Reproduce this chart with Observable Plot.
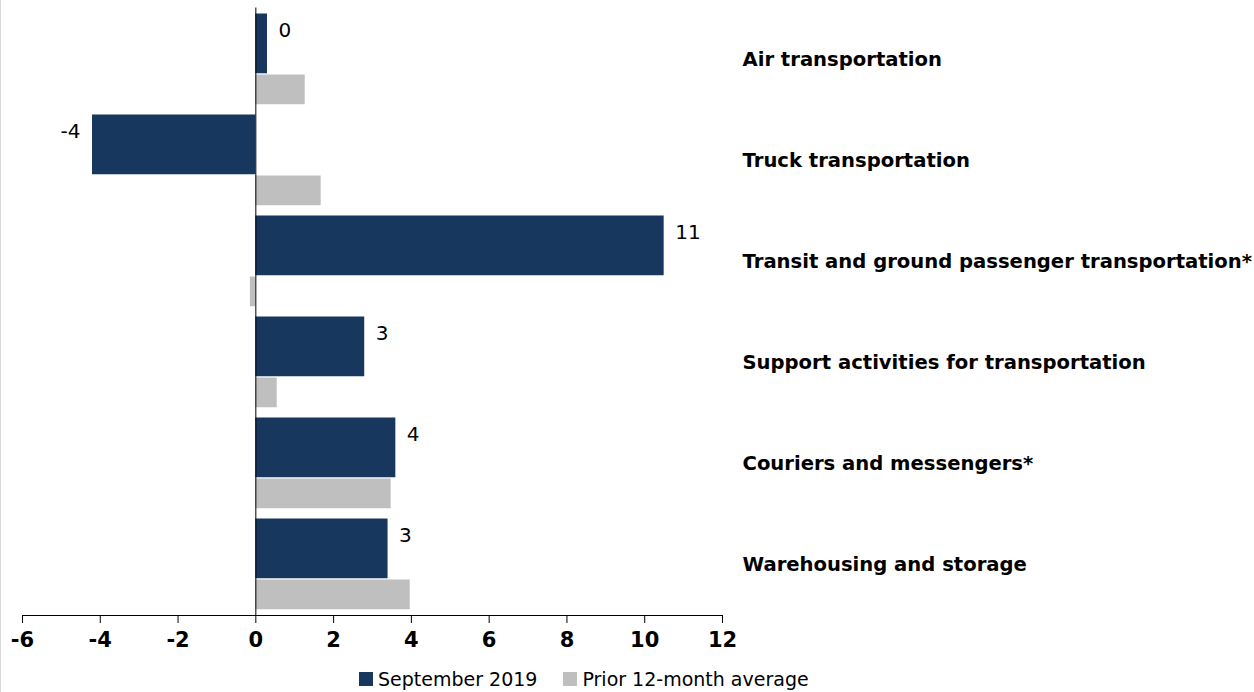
<!DOCTYPE html>
<html>
<head>
<meta charset="utf-8">
<script src="https://cdn.jsdelivr.net/npm/d3@7"></script>
<script src="https://cdn.jsdelivr.net/npm/@observablehq/plot@0.6"></script>
<style>
  html, body { margin: 0; padding: 0; background: #fff; }
  body { width: 1254px; height: 692px; position: relative; overflow: hidden; font-family: "DejaVu Sans", sans-serif; }
  #chart { position: absolute; left: 0; top: 0; }
  #frame { position: absolute; left: 0; top: 0; width: 1px; height: 692px; background: #d9d9d9; z-index: 2; }
  #legend { position: absolute; left: 359px; top: 668px; display: flex; align-items: center; font-size: 19px; color: #000; white-space: nowrap; }
  .item { display: flex; align-items: center; margin-right: 26px; }
  .sw { width: 14px; height: 14px; margin-right: 5px; }
</style>
</head>
<body>
<div id="chart"></div>
<div id="frame"></div>
<div id="legend"></div>
<script>
const categories = [
  "Air transportation",
  "Truck transportation",
  "Transit and ground passenger transportation*",
  "Support activities for transportation",
  "Couriers and messengers*",
  "Warehousing and storage"
];
const september2019 = [0.3, -4.2, 10.5, 2.8, 3.6, 3.4];
const prior12MonthAverage = [1.27, 1.68, -0.14, 0.55, 3.48, 3.97];
const dataLabels = ["0", "-4", "11", "3", "4", "3"];
const xTicks = [-6, -4, -2, 0, 2, 4, 6, 8, 10, 12];
const seriesNames = ["September 2019", "Prior 12-month average"];
const seriesColors = ["#17375e", "#bfbfbf"];

const sept = categories.map((c, i) => ({category: c, value: september2019[i], label: dataLabels[i]}));
const prior = categories.map((c, i) => ({category: c, value: prior12MonthAverage[i]}));

const font = "DejaVu Sans, sans-serif";

const chart = Plot.plot({
  width: 1254,
  height: 665,
  marginLeft: 22,
  marginRight: 532,
  marginTop: 7.5,
  marginBottom: 50,
  style: {fontFamily: font, color: "#000", background: "#fff"},
  x: {domain: [-6, 12]},
  y: {domain: categories, padding: 0},
  marks: [
    Plot.barX(sept, {x: "value", y: "category", fill: seriesColors[0], insetTop: 5.5, insetBottom: 35.75}),
    Plot.barX(prior, {x: "value", y: "category", fill: seriesColors[1], insetTop: 66.5, insetBottom: 4.75}),
    Plot.ruleX([0], {stroke: "#000", strokeWidth: 1}),
    Plot.frame({anchor: "bottom", stroke: "#000", strokeWidth: 1}),
    Plot.axisX({ticks: xTicks, tickSize: 8, tickPadding: 9, tickFormat: d => String(d), fontSize: 21, fontWeight: "bold", label: null, stroke: "#000"}),
    Plot.axisY({anchor: "right", tickSize: 0, tickPadding: 20, textAnchor: "start", fontSize: 19.6, fontWeight: "bold", label: null, dy: 1}),
    Plot.text(sept.filter(d => d.value >= 0), {x: "value", y: "category", text: "label", dy: -28, dx: 11, fontSize: 20, fill: "#000", textAnchor: "start"}),
    Plot.text(sept.filter(d => d.value < 0), {x: "value", y: "category", text: "label", dy: -28, dx: -12, fontSize: 20, fill: "#000", textAnchor: "end"})
  ]
});
document.getElementById("chart").appendChild(chart);

const legend = document.getElementById("legend");
seriesNames.forEach((name, i) => {
  const item = document.createElement("div");
  item.className = "item";
  const sw = document.createElement("div");
  sw.className = "sw";
  sw.style.background = seriesColors[i];
  const t = document.createElement("span");
  t.textContent = name;
  item.appendChild(sw);
  item.appendChild(t);
  legend.appendChild(item);
});
</script>
</body>
</html>
